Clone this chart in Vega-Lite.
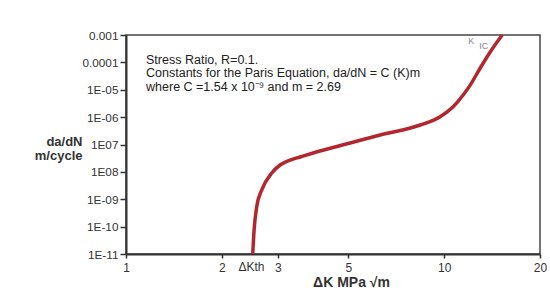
{
  "$schema": "https://vega.github.io/schema/vega-lite/v6.json",
  "width": 414,
  "height": 219,
  "autosize": "none",
  "padding": {"left": 126, "top": 35, "right": 10, "bottom": 45},
  "background": "white",
  "config": {
    "view": {"stroke": "#444", "strokeWidth": 1.5},
    "font": "Liberation Sans",
    "text": {"font": "Liberation Sans"}
  },
  "datasets": {
    "curve": [
      {"dK": 2.502, "rate": 1e-11},
      {"dK": 2.527, "rate": 7.6e-11},
      {"dK": 2.576, "rate": 5.4e-10},
      {"dK": 2.671, "rate": 2.2e-9},
      {"dK": 2.872, "rate": 9.1e-9},
      {"dK": 3.05, "rate": 1.78e-8},
      {"dK": 3.28, "rate": 2.7e-8},
      {"dK": 3.525, "rate": 3.5e-8},
      {"dK": 3.873, "rate": 4.9e-8},
      {"dK": 5.063, "rate": 1.135e-7},
      {"dK": 6.29, "rate": 2.22e-7},
      {"dK": 8.41, "rate": 5.15e-7},
      {"dK": 9.71, "rate": 1.035e-6},
      {"dK": 10.67, "rate": 2.4e-6},
      {"dK": 11.47, "rate": 6.43e-6},
      {"dK": 12.07, "rate": 1.48e-5},
      {"dK": 12.98, "rate": 6.24e-5},
      {"dK": 13.95, "rate": 2.4e-4},
      {"dK": 15.22, "rate": 1e-3}
    ],
    "notes": [
      {"dK": 1.156, "rate": 8.73e-5, "label": ["Stress Ratio, R=0.1.", "Constants for the Paris Equation, da/dN = C (K)m", "where C =1.54 x 10⁻⁹ and m = 2.69"]}
    ],
    "kth": [{"dK": 2.48, "rate": 1e-11, "label": "ΔKth"}],
    "kic1": [{"dK": 11.9, "rate": 4.69e-4, "label": "K"}],
    "kic2": [{"dK": 12.88, "rate": 3.08e-4, "label": "IC"}]
  },
  "layer": [
    {
      "data": {"name": "curve"},
      "mark": {"type": "line", "color": "#b3262d", "strokeWidth": 3.5, "interpolate": "monotone"},
      "encoding": {
        "x": {
          "field": "dK", "type": "quantitative",
          "scale": {"type": "log", "domain": [1, 20], "nice": false},
          "axis": {
            "values": [1, 2, 3, 5, 10, 20],
            "format": "d",
            "grid": false,
            "domainColor": "#333", "domainWidth": 2,
            "tickColor": "#333", "tickWidth": 1.5, "tickSize": 4,
            "labelFont": "Liberation Sans", "labelFontSize": 12, "labelColor": "#333",
            "labelPadding": 4, "labelFlush": false,
            "title": "ΔK MPa √m",
            "titleFont": "Liberation Sans", "titleFontSize": 14, "titleFontWeight": "bold", "titleColor": "#333",
            "titleX": 225, "titleY": 32, "titleBaseline": "alphabetic", "titleAnchor": "middle", "titleAlign": "center"
          }
        },
        "y": {
          "field": "rate", "type": "quantitative",
          "scale": {"type": "log", "domain": [1e-11, 1e-3], "nice": false},
          "axis": {
            "values": [1e-3, 1e-4, 1e-5, 1e-6, 1e-7, 1e-8, 1e-9, 1e-10, 1e-11],
            "labelExpr": "round(log(datum.value)/LN10) == -3 ? '0.001' : round(log(datum.value)/LN10) == -4 ? '0.0001' : round(log(datum.value)/LN10) == -5 ? '1E-05' : round(log(datum.value)/LN10) == -6 ? '1E-06' : round(log(datum.value)/LN10) == -7 ? '1E07' : round(log(datum.value)/LN10) == -8 ? '1E08' : round(log(datum.value)/LN10) == -9 ? '1E-09' : round(log(datum.value)/LN10) == -10 ? '1E-10' : '1E-11'",
            "grid": false,
            "domainColor": "#333", "domainWidth": 2,
            "tickColor": "#333", "tickWidth": 1.5, "tickSize": 6,
            "labelFont": "Liberation Sans", "labelFontSize": 11.8, "labelColor": "#333",
            "labelPadding": 2, "labelFlush": false,
            "title": ["da/dN", "m/cycle"],
            "titleFont": "Liberation Sans", "titleFontSize": 13, "titleFontWeight": "bold", "titleColor": "#333",
            "titleAngle": 0, "titleAlign": "right", "titleBaseline": "alphabetic",
            "titleX": -44, "titleY": 110, "titleLineHeight": 14.5
          }
        }
      }
    },
    {
      "data": {"name": "notes"},
      "mark": {"type": "text", "align": "left", "baseline": "alphabetic", "fontSize": 12.5, "lineHeight": 13.3, "color": "#222"},
      "encoding": {
        "x": {"field": "dK", "type": "quantitative"},
        "y": {"field": "rate", "type": "quantitative"},
        "text": {"field": "label"}
      }
    },
    {
      "data": {"name": "kth"},
      "mark": {"type": "text", "align": "center", "baseline": "alphabetic", "fontSize": 12, "color": "#333", "dy": 17},
      "encoding": {
        "x": {"field": "dK", "type": "quantitative"},
        "y": {"field": "rate", "type": "quantitative"},
        "text": {"field": "label"}
      }
    },
    {
      "data": {"name": "kic1"},
      "mark": {"type": "text", "align": "left", "baseline": "alphabetic", "fontSize": 9, "color": "#888"},
      "encoding": {
        "x": {"field": "dK", "type": "quantitative"},
        "y": {"field": "rate", "type": "quantitative"},
        "text": {"field": "label"}
      }
    },
    {
      "data": {"name": "kic2"},
      "mark": {"type": "text", "align": "left", "baseline": "alphabetic", "fontSize": 9, "color": "#888"},
      "encoding": {
        "x": {"field": "dK", "type": "quantitative"},
        "y": {"field": "rate", "type": "quantitative"},
        "text": {"field": "label"}
      }
    }
  ]
}
